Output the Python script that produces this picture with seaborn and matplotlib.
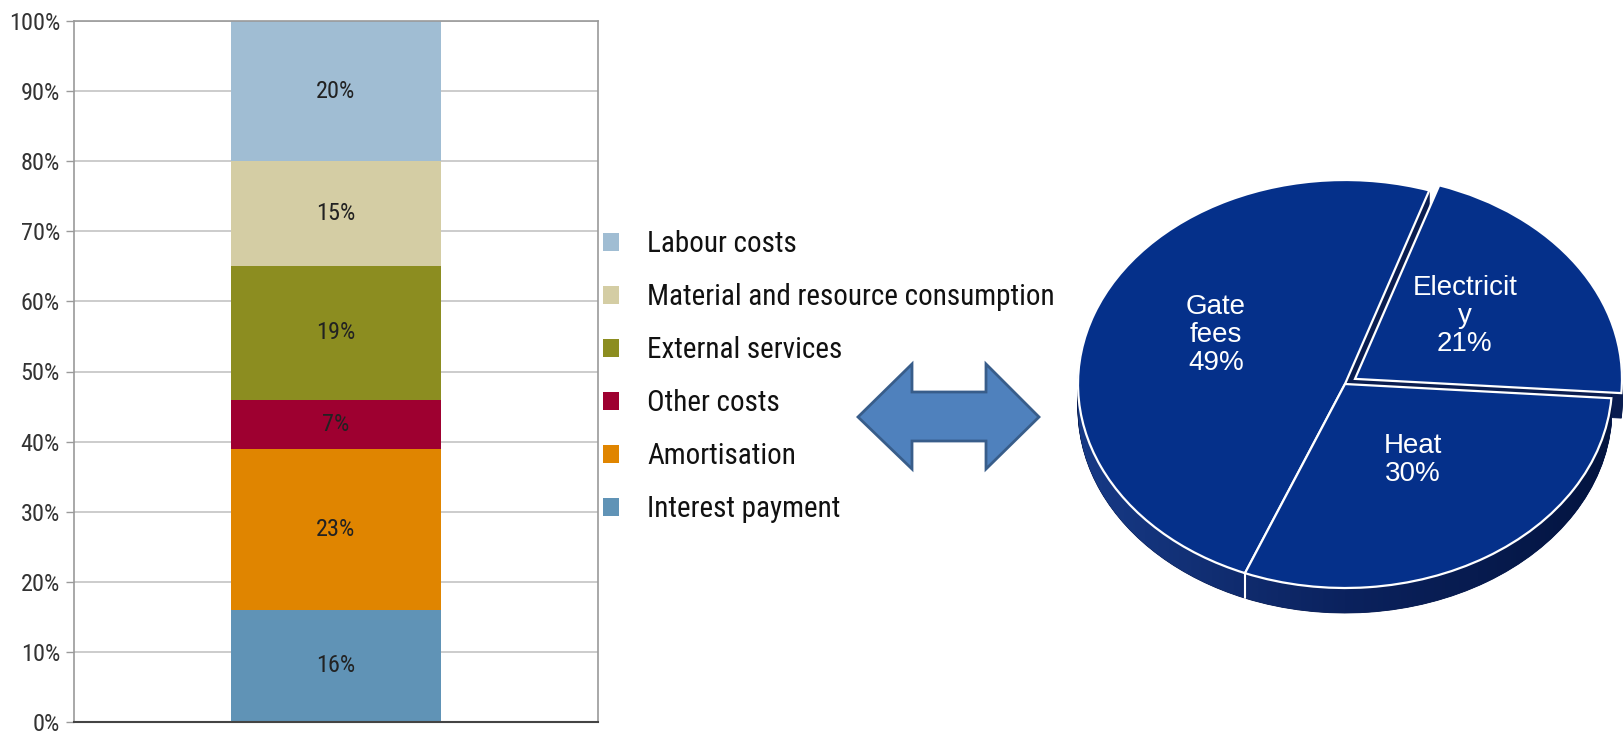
import os
import numpy as np
import pandas as pd
import matplotlib
matplotlib.use("Agg")
import matplotlib.pyplot as plt
from matplotlib import font_manager as fm
from matplotlib.patches import Patch, Polygon
import seaborn as sns

# ---- cost structure (stacked bar, bottom to top) ----
cost_categories = ["Interest payment", "Amortisation", "Other costs",
                   "External services", "Material and resource consumption",
                   "Labour costs"]
cost_shares = [16, 23, 7, 19, 15, 20]
cost_colors = ["#6093B6", "#E08500", "#9E0030", "#8C8D20", "#D4CDA4", "#A0BDD3"]
y_ticks = list(range(0, 101, 10))

# ---- revenue structure (pie) ----
revenue_labels = ["Electricit\ny", "Gate\nfees", "Heat"]
revenue_shares = [21, 49, 30]
revenue_explode = [0.045, 0, 0]

W, H = 1623, 734
sns.set_theme(style="white")
plt.rcParams["font.family"] = ["DejaVu Sans"]


def narrow_font():
    """Pick a regular-weight condensed sans face if one is installed."""
    preferred = ["LiberationSansNarrow-Regular", "RobotoCondensed-Regular",
                 "RobotoCondensed-Light", "OpenSans_Condensed-Regular",
                 "OpenSansCondensed-Light", "DejaVuSansCondensed.ttf",
                 "NotoSans-Condensed.ttf", "NotoSansDisplay-Condensed"]
    files = [f.fname for f in fm.fontManager.ttflist]
    for key in preferred:
        for fn in files:
            if key.lower() in os.path.basename(fn).lower():
                return fm.FontProperties(fname=fn), True
    for fn in files:
        b = os.path.basename(fn).lower()
        if ("condensed" in b or "narrow" in b) and not any(
                s in b for s in ("bold", "italic", "oblique", "black", "semi", "extra", "medium", "thin")):
            return fm.FontProperties(fname=fn), True
    return fm.FontProperties(family="DejaVu Sans"), False


nfont, is_narrow = narrow_font()
scale = 1.0 if is_narrow else 0.85


def fp(size):
    p = nfont.copy()
    p.set_size(size * scale)
    return p


fig = plt.figure(figsize=(W / 100, H / 100), dpi=100)

# ---------------- stacked bar ----------------
ax = fig.add_axes([74 / W, 1 - 722 / H, 524 / W, 701 / H])
cum = np.cumsum(cost_shares)
df = pd.DataFrame({"group": ["Costs"] * len(cost_shares), "top": cum,
                   "category": cost_categories})
# draw the cumulative heights from the top segment down so each overlays the next
for i in range(len(cost_shares) - 1, -1, -1):
    sns.barplot(data=df.iloc[[i]], x="group", y="top", color=cost_colors[i],
                saturation=1, width=0.4, ax=ax, zorder=2, linewidth=0)
for i, v in enumerate(cost_shares):
    ax.text(0, cum[i] - v / 2, f"{v}%", ha="center", va="center",
            fontproperties=fp(17.5), color="#222222", zorder=3)

ax.set_xlim(-0.5, 0.5)
ax.set_ylim(0, 100)
ax.set_xticks([])
ax.set_yticks(y_ticks)
ax.set_yticklabels([f"{t}%" for t in y_ticks], fontproperties=fp(17.5),
                   color="#333333")
ax.set_xlabel("")
ax.set_ylabel("")
ax.yaxis.grid(True, color="#C4C4C4", linewidth=1.2)
ax.set_axisbelow(True)
ax.tick_params(axis="y", length=6, width=1, color="#9A9A9A", pad=4, left=True)
for side in ["left", "right", "top"]:
    ax.spines[side].set_color("#9A9A9A")
    ax.spines[side].set_linewidth(1.2)
ax.spines["bottom"].set_color("#444444")
ax.spines["bottom"].set_linewidth(1.5)

handles = [Patch(facecolor=c, edgecolor="none") for c in cost_colors[::-1]]
fig.legend(handles, cost_categories[::-1], loc="upper left",
           bbox_to_anchor=(603 / W, 1 - 230 / H), frameon=False,
           prop=fp(21), handlelength=0.56, handleheight=0.56,
           handletextpad=0.95, labelspacing=0.86, borderpad=0,
           borderaxespad=0, labelcolor="#111111")

# ---------------- double arrow ----------------
arrow_px = [(858, 417), (912, 364), (912, 392), (986, 392), (986, 364),
            (1039, 417), (986, 469), (986, 441), (912, 441), (912, 469)]
arrow = Polygon([(x / W, 1 - y / H) for x, y in arrow_px], closed=True,
                transform=fig.transFigure, facecolor="#4F81BD",
                edgecolor="#385D8A", linewidth=2, joinstyle="miter")
fig.patches.append(arrow)

# ---------------- 3D-style pie ----------------
cx, cy, rx, ry = 1345, 384, 267, 204
L, R, T, B = 1040, 1623, 150, 650
ax2 = fig.add_axes([L / W, 1 - B / H, (R - L) / W, (B - T) / H])
start = -4
top_color = "#05308A"
side_color = "#0A1D50"
depth = 25 / ry
n_layers = 30
for k in range(n_layers, 0, -1):
    off = depth * k / n_layers
    ax2.pie(revenue_shares, startangle=start, explode=revenue_explode,
            colors=[side_color] * 3, center=(0, -off), counterclock=True,
            wedgeprops=dict(linewidth=0.6, edgecolor=side_color), frame=True)

# shading of the rim: lighter on the left, darker to the right
rim_x = np.linspace(-1.0, 1.0, 400)
grad = np.linspace(0, 1, 400)[None, :]
cmap = matplotlib.colors.LinearSegmentedColormap.from_list(
    "rim", ["#173A86", "#0B225E", "#031440"])
img = ax2.imshow(grad, cmap=cmap, extent=(-1.0, 1.0, -1 - depth - 0.02, 0.3),
                 aspect="auto", zorder=1.5, interpolation="bilinear")
rim_top = -np.sqrt(np.clip(1 - rim_x ** 2, 0, None))
poly = np.column_stack([np.r_[rim_x, rim_x[::-1]],
                        np.r_[rim_top - depth, rim_top[::-1]]])
clip = Polygon(poly, closed=True, transform=ax2.transData, facecolor="none",
               edgecolor="none")
ax2.add_patch(clip)
img.set_clip_path(clip)

# seam on the side between gate fees and heat
theta = np.deg2rad(start + 3.6 * (revenue_shares[0] + revenue_shares[1]))
ax2.plot([np.cos(theta)] * 2, [np.sin(theta), np.sin(theta) - depth],
         color="white", lw=1.5, zorder=5)

wedges, _ = ax2.pie(revenue_shares, startangle=start, explode=revenue_explode,
                    colors=[top_color] * 3, counterclock=True, frame=True,
                    wedgeprops=dict(linewidth=1.6, edgecolor="white"))
for w in wedges:
    w.set_zorder(6)

label_xy = [(0.449, 0.333), (-0.483, 0.24), (0.255, -0.373)]
for (x, y), lab, v in zip(label_xy, revenue_labels, revenue_shares):
    ax2.text(x, y, f"{lab}\n{v}%", ha="center", va="center", color="white",
             fontsize=20, family=["Liberation Sans", "DejaVu Sans"],
             linespacing=1.12, zorder=7)

ax2.set_aspect("auto")
ax2.set_xlim((L - cx) / rx, (R - cx) / rx)
ax2.set_ylim((cy - B) / ry, (cy - T) / ry)
ax2.axis("off")

fig.savefig("out.png", dpi=100, facecolor="white")
